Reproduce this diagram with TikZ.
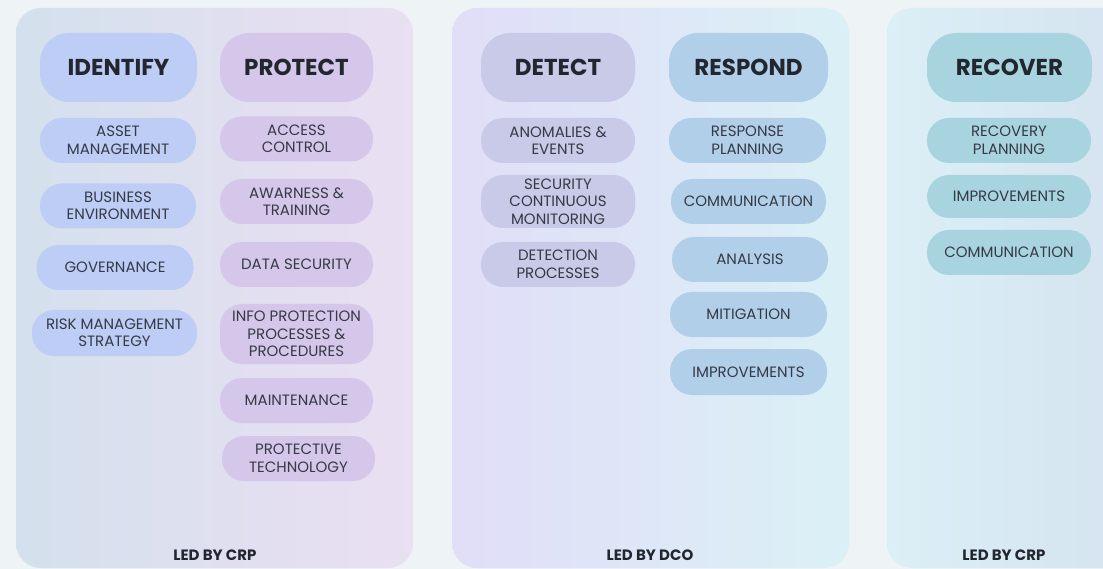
\documentclass[tikz,border=0pt]{standalone}
\usepackage{fontspec}
\setmainfont{Poppins}
\definecolor{bg}{HTML}{EEF3F6}
\definecolor{pAl}{HTML}{D4E0ED}
\definecolor{pAr}{HTML}{EADFF3}
\definecolor{pBl}{HTML}{E1DEF8}
\definecolor{pBr}{HTML}{DBF0F6}
\definecolor{pCl}{HTML}{DBEFF6}
\definecolor{pCr}{HTML}{D5E3F0}
\definecolor{idc}{HTML}{BDCDF6}
\definecolor{prc}{HTML}{D5C7EA}
\definecolor{dec}{HTML}{C9C9E8}
\definecolor{rsc}{HTML}{B2CFEA}
\definecolor{rcc}{HTML}{A8D4DF}
\definecolor{txt}{HTML}{363A45}
\definecolor{hdtxt}{HTML}{22262F}
\begin{document}
\begin{tikzpicture}[x=1pt,y=-1pt,
  pill/.style={rounded corners=22pt, align=center, inner sep=0pt, text=txt,
    font=\fontsize{15}{17.5}\selectfont, minimum height=45pt},
  head/.style={rounded corners=29pt, align=center, inner sep=0pt, text=hdtxt,
    font=\bfseries\fontsize{23}{28}\selectfont, minimum height=69pt},
  led/.style={text=hdtxt, font=\bfseries\fontsize{15}{17}\selectfont}]
\path[use as bounding box] (0,0) rectangle (1103,569);
\clip (0,0) rectangle (1103,569);
\fill[bg] (0,0) rectangle (1103,569);
% panels
\shade[left color=pAl, right color=pAr, rounded corners=25pt] (16,8) rectangle (413,568);
\shade[left color=pBl, right color=pBr, rounded corners=25pt] (452,8) rectangle (849,568);
\shade[left color=pCl, right color=pCr, rounded corners=25pt] (887,8) rectangle (1140,568);
% IDENTIFY
\node[head, fill=idc, minimum width=157pt] (identify) at (118.5,67.5) {IDENTIFY};
\node[pill, fill=idc, minimum width=156pt] (asset) at (118,140.5) {ASSET\\MANAGEMENT};
\node[pill, fill=idc, minimum width=156pt] (business) at (118,206) {BUSINESS\\ENVIRONMENT};
\node[pill, fill=idc, minimum width=157pt] (governance) at (115,267.5) {GOVERNANCE};
\node[pill, fill=idc, minimum width=165pt, minimum height=46pt] (risk) at (114.5,333) {RISK MANAGEMENT\\STRATEGY};
% PROTECT
\node[head, fill=prc, minimum width=153pt] (protect) at (296.5,67.5) {PROTECT};
\node[pill, fill=prc, minimum width=153pt] (access) at (296.5,139) {ACCESS\\CONTROL};
\node[pill, fill=prc, minimum width=153pt] (awareness) at (296.5,201.5) {AWARNESS \&\\TRAINING};
\node[pill, fill=prc, minimum width=153pt] (datasec) at (296.5,264.5) {DATA SECURITY};
\node[pill, fill=prc, minimum width=153pt, minimum height=60pt] (infoprot) at (296.5,334) {INFO PROTECTION\\PROCESSES \&\\PROCEDURES};
\node[pill, fill=prc, minimum width=153pt] (maint) at (296.5,400.5) {MAINTENANCE};
\node[pill, fill=prc, minimum width=153pt] (prottech) at (298.5,458.5) {PROTECTIVE\\TECHNOLOGY};
\node[led] (led1) at (215,555) {LED BY CRP};
% DETECT
\node[head, fill=dec, minimum width=154pt] (detect) at (558,67.5) {DETECT};
\node[pill, fill=dec, minimum width=154pt] (anomalies) at (558,140.5) {ANOMALIES \&\\EVENTS};
\node[pill, fill=dec, minimum width=154pt, minimum height=53pt] (seccont) at (558,201.5) {SECURITY\\CONTINUOUS\\MONITORING};
\node[pill, fill=dec, minimum width=154pt] (detproc) at (558,264.5) {DETECTION\\PROCESSES};
% RESPOND
\node[head, fill=rsc, minimum width=159pt] (respond) at (748.5,67.5) {RESPOND};
\node[pill, fill=rsc, minimum width=157pt] (resplan) at (747.5,140.5) {RESPONSE\\PLANNING};
\node[pill, fill=rsc, minimum width=155pt] (rcomm) at (748.5,201.5) {COMMUNICATION};
\node[pill, fill=rsc, minimum width=156pt] (analysis) at (750,259.5) {ANALYSIS};
\node[pill, fill=rsc, minimum width=157pt] (mitig) at (748.5,314.5) {MITIGATION};
\node[pill, fill=rsc, minimum width=157pt, minimum height=46pt] (rimpr) at (748.5,372) {IMPROVEMENTS};
\node[led] (led2) at (650,555) {LED BY DCO};
% RECOVER
\node[head, fill=rcc, minimum width=165pt] (recover) at (1009.5,67.5) {RECOVER};
\node[pill, fill=rcc, minimum width=164pt] (recplan) at (1009,140.5) {RECOVERY\\PLANNING};
\node[pill, fill=rcc, minimum width=164pt, minimum height=43pt] (cimpr) at (1009,196.5) {IMPROVEMENTS};
\node[pill, fill=rcc, minimum width=164pt] (ccomm) at (1009,252.5) {COMMUNICATION};
\node[led] (led3) at (1004,555) {LED BY CRP};
\end{tikzpicture}
\end{document}
